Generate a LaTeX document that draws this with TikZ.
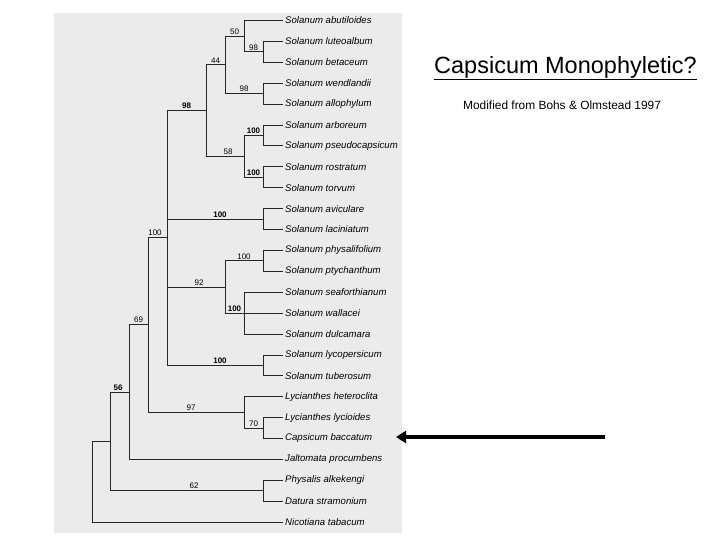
\documentclass[tikz,border=0pt]{standalone}
\usepackage{fontspec}
\setmainfont{Liberation Sans}
\usetikzlibrary{arrows.meta}
\begin{document}
\begin{tikzpicture}[x=1pt,y=-1pt,
  leaf/.style={anchor=west,inner sep=2pt,font=\fontsize{9.6}{10}\selectfont\itshape},
  br/.style={line width=0.8pt,black!85},
  bs/.style={above,inner sep=1.5pt,font=\fontsize{8}{9}\selectfont},
  bsb/.style={bs,font=\fontsize{8}{9}\selectfont\bfseries}]
\useasboundingbox (0,0) rectangle (720,540);
\fill[black!8] (54,13) rectangle (402,533);
% leaves
\foreach \i/\t in {0/Solanum abutiloides,1/Solanum luteoalbum,2/Solanum betaceum,3/Solanum wendlandii,4/Solanum allophylum,5/Solanum arboreum,6/Solanum pseudocapsicum,7/Solanum rostratum,8/Solanum torvum,9/Solanum aviculare,10/Solanum laciniatum,11/Solanum physalifolium,12/Solanum ptychanthum,13/Solanum seaforthianum,14/Solanum wallacei,15/Solanum dulcamara,16/Solanum lycopersicum,17/Solanum tuberosum,18/Lycianthes heteroclita,19/Lycianthes lycioides,20/Capsicum baccatum,21/Jaltomata procumbens,22/Physalis alkekengi,23/Datura stramonium,24/Nicotiana tabacum}
  \node[leaf] (l\i) at (283,20.5+20.9*\i) {\t};
% internal nodes
\coordinate (A) at (263,51.85);
\coordinate (B) at (244,36.2);
\coordinate (C) at (263,93.65);
\coordinate (D) at (225,64.9);
\coordinate (E) at (263,135.45);
\coordinate (F) at (263,177.25);
\coordinate (G) at (244,156.35);
\coordinate (H) at (206,110.6);
\coordinate (I) at (263,219.05);
\coordinate (J) at (263,260.85);
\coordinate (K) at (244,313.1);
\coordinate (L) at (225,287);
\coordinate (M) at (263,365.35);
\coordinate (N) at (167,237);
\coordinate (O) at (263,428);
\coordinate (P) at (244,412.4);
\coordinate (Q) at (148,324.7);
\coordinate (R) at (129,392);
\coordinate (S) at (263,490.75);
\coordinate (T) at (110,441.4);
\coordinate (U) at (92,481.75);
\begin{scope}[br]
\draw (A) |- (l1.west); \draw (A) |- (l2.west);
\draw (B) |- (l0.west); \draw (B) |- (A);
\draw (C) |- (l3.west); \draw (C) |- (l4.west);
\draw (D) |- (B); \draw (D) |- (C);
\draw (E) |- (l5.west); \draw (E) |- (l6.west);
\draw (F) |- (l7.west); \draw (F) |- (l8.west);
\draw (G) |- (E); \draw (G) |- (F);
\draw (H) |- (D); \draw (H) |- (G);
\draw (I) |- (l9.west); \draw (I) |- (l10.west);
\draw (J) |- (l11.west); \draw (J) |- (l12.west);
\draw (K) |- (l13.west); \draw (K) |- (l14.west); \draw (K) |- (l15.west);
\draw (L) |- (J); \draw (L) |- (K);
\draw (M) |- (l16.west); \draw (M) |- (l17.west);
\draw (N) |- (H); \draw (N) |- (I); \draw (N) |- (L); \draw (N) |- (M);
\draw (O) |- (l19.west); \draw (O) |- (l20.west);
\draw (P) |- (l18.west); \draw (P) |- (O);
\draw (Q) |- (N); \draw (Q) |- (P);
\draw (R) |- (Q); \draw (R) |- (l21.west);
\draw (S) |- (l22.west); \draw (S) |- (l23.west);
\draw (T) |- (R); \draw (T) |- (S);
\draw (U) |- (T); \draw (U) |- (l24.west);
\end{scope}
% support values
\node[bs] (vA) at (253.5,51.85) {98};
\node[bs] (vB) at (234.5,36.2) {50};
\node[bs] (vC) at (244,93.65) {98};
\node[bs] (vD) at (215.5,64.9) {44};
\node[bsb] (vE) at (253.5,135.45) {100};
\node[bsb] (vF) at (253.5,177.25) {100};
\node[bs] (vG) at (228,156.35) {58};
\node[bsb] (vH) at (186.5,110.6) {98};
\node[bsb] (vI) at (220,219.05) {100};
\node[bs] (vJ) at (244,260.85) {100};
\node[bsb] (vK) at (234.5,313.1) {100};
\node[bs] (vL) at (199,287) {92};
\node[bsb] (vM) at (220,365.35) {100};
\node[bs] (vN) at (155,237) {100};
\node[bs] (vO) at (253.5,428) {70};
\node[bs] (vP) at (191,412.4) {97};
\node[bs] (vQ) at (138.5,324.7) {69};
\node[bsb] (vR) at (118,392) {56};
\node[bs] (vS) at (194,490.75) {62};
% right side
\node[anchor=west,inner sep=0pt,font=\fontsize{23.5}{26}\selectfont] (title) at (434,68) {\underline{Capsicum Monophyletic?}};
\node[anchor=west,inner sep=0pt,font=\fontsize{11.9}{13}\selectfont] (sub) at (463,105) {Modified from Bohs \& Olmstead 1997};
\coordinate (arrS) at (605,437);
\draw[line width=4pt,-{Triangle[length=10pt,width=12pt]}] (arrS) -- (396,437);
\end{tikzpicture}
\end{document}
